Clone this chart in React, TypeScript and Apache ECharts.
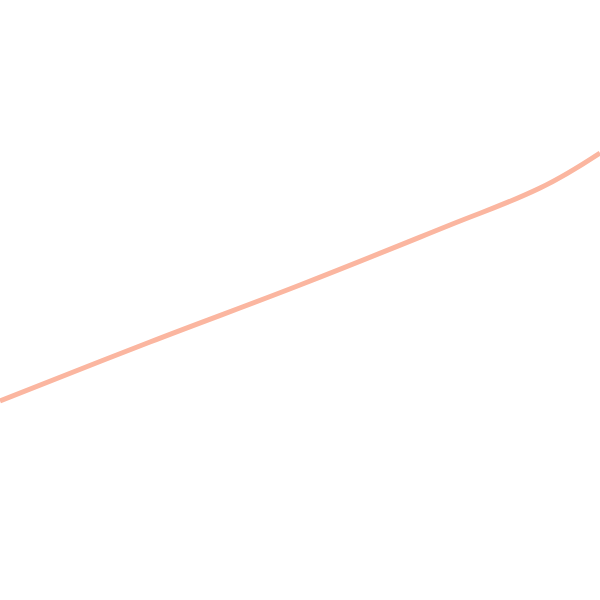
import { useEffect, useRef } from 'react'
import * as echarts from 'echarts'

// positions along the x axis (0..600) and the line's height (0 = bottom)
const xValues = [0, 150, 300, 450, 540, 600]
const yValues = [199, 258, 315, 375, 412, 447]

const lineColor = '#fbb6a0'

export default function App() {
  const ref = useRef<HTMLDivElement>(null)

  useEffect(() => {
    if (!ref.current) return
    const chart = echarts.init(ref.current, undefined, { renderer: 'svg' })

    const option: echarts.EChartsOption = {
      animation: false,
      backgroundColor: '#ffffff',
      grid: { left: 0, right: 0, top: 0, bottom: 0 },
      xAxis: {
        type: 'value',
        min: 0,
        max: 600,
        show: false,
      },
      yAxis: {
        type: 'value',
        min: 0,
        max: 600,
        show: false,
      },
      series: [
        {
          type: 'line',
          data: xValues.map((x, i) => [x, yValues[i]]),
          smooth: 0.4,
          showSymbol: false,
          lineStyle: { color: lineColor, width: 5 },
        },
      ],
    }

    chart.setOption(option)
    return () => chart.dispose()
  }, [])

  return (
    <div
      ref={ref}
      style={{ position: 'absolute', left: 0, top: 0, width: 600, height: 600 }}
    />
  )
}
